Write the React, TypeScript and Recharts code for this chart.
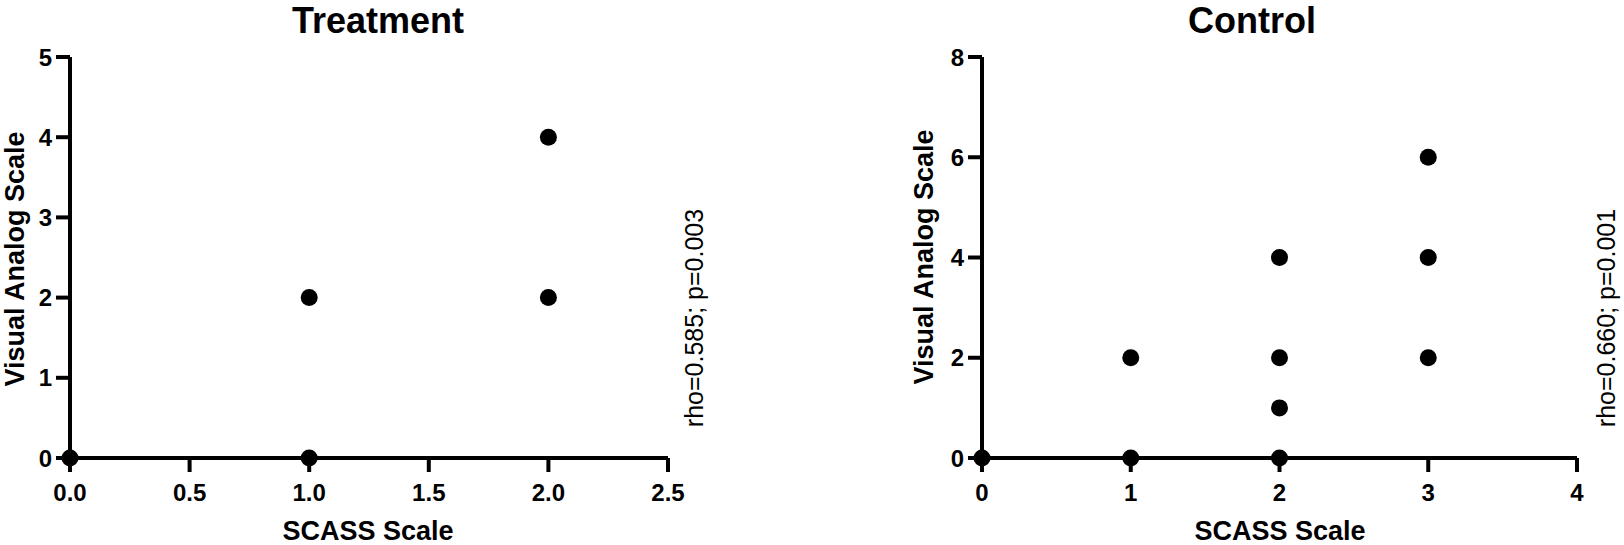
import { ScatterChart, Scatter, XAxis, YAxis } from 'recharts'

// SCASS score vs VAS, one array pair per group
const treatmentScass = [0, 1, 1, 2, 2]
const treatmentVas = [0, 0, 2, 2, 4]
const controlScass = [0, 1, 1, 2, 2, 2, 2, 3, 3, 3]
const controlVas = [0, 0, 2, 0, 1, 2, 4, 2, 4, 6]

const treatmentXTicks = [0, 0.5, 1, 1.5, 2, 2.5]
const treatmentYTicks = [0, 1, 2, 3, 4, 5]
const controlXTicks = [0, 1, 2, 3, 4]
const controlYTicks = [0, 2, 4, 6, 8]

const FONT = "'Liberation Sans', Arial, sans-serif"
const INK = '#000000'
const DOT_R = 8.5

const toPoints = (xs: number[], ys: number[]) => xs.map((x, i) => ({ x, y: ys[i] }))

const tickStyle = { fill: INK, fontSize: 24, fontWeight: 700, fontFamily: FONT }

const Dot = (props: any) => <circle cx={props.cx} cy={props.cy} r={DOT_R} fill={INK} />

interface PanelProps {
  points: { x: number; y: number }[]
  xTicks: number[]
  yTicks: number[]
  xFormat?: (v: number) => string
  yAxisWidth: number
  marginRight: number
}

function Panel({ points, xTicks, yTicks, xFormat, yAxisWidth, marginRight }: PanelProps) {
  return (
    <ScatterChart
      width={812}
      height={545}
      margin={{ top: 57, right: marginRight, bottom: 47, left: 0 }}
    >
      <XAxis
        type="number"
        dataKey="x"
        domain={[xTicks[0], xTicks[xTicks.length - 1]]}
        ticks={xTicks}
        interval={0}
        height={40}
        tickFormatter={xFormat}
        tick={tickStyle}
        tickSize={14}
        tickMargin={12}
        axisLine={{ stroke: INK, strokeWidth: 4 }}
        tickLine={{ stroke: INK, strokeWidth: 4 }}
      />
      <YAxis
        type="number"
        dataKey="y"
        domain={[yTicks[0], yTicks[yTicks.length - 1]]}
        ticks={yTicks}
        interval={0}
        width={yAxisWidth}
        tick={tickStyle}
        tickSize={14}
        tickMargin={4}
        axisLine={{ stroke: INK, strokeWidth: 4 }}
        tickLine={{ stroke: INK, strokeWidth: 4 }}
      />
      <Scatter data={points} fill={INK} shape={Dot} isAnimationActive={false} />
    </ScatterChart>
  )
}

export default function App() {
  return (
    <div style={{ position: 'absolute', left: 0, top: 0, width: 1624, height: 545, background: '#fff' }}>
      <div style={{ position: 'absolute', left: 0, top: 0 }}>
        <Panel
          points={toPoints(treatmentScass, treatmentVas)}
          xTicks={treatmentXTicks}
          yTicks={treatmentYTicks}
          xFormat={v => v.toFixed(1)}
          yAxisWidth={70}
          marginRight={144}
        />
      </div>
      <div style={{ position: 'absolute', left: 812, top: 0 }}>
        <Panel
          points={toPoints(controlScass, controlVas)}
          xTicks={controlXTicks}
          yTicks={controlYTicks}
          yAxisWidth={170}
          marginRight={47}
        />
      </div>

      {/* titles, axis titles and the correlation notes */}
      <svg
        width={1624}
        height={545}
        style={{ position: 'absolute', left: 0, top: 0, pointerEvents: 'none' }}
        fontFamily={FONT}
        fill={INK}
      >
        <text x={378} y={33} textAnchor="middle" fontSize={36} fontWeight={700}>Treatment</text>
        <text x={1252} y={33} textAnchor="middle" fontSize={36} fontWeight={700}>Control</text>

        <text x={368} y={540} textAnchor="middle" fontSize={27} fontWeight={700}>SCASS Scale</text>
        <text x={1280} y={540} textAnchor="middle" fontSize={27} fontWeight={700}>SCASS Scale</text>

        <text transform="translate(24,259) rotate(-90)" textAnchor="middle" fontSize={27} fontWeight={700}>
          Visual Analog Scale
        </text>
        <text transform="translate(933,257) rotate(-90)" textAnchor="middle" fontSize={27} fontWeight={700}>
          Visual Analog Scale
        </text>

        <text transform="translate(703,318) rotate(-90)" textAnchor="middle" fontSize={25}>
          rho=0.585; p=0.003
        </text>
        <text transform="translate(1615,318) rotate(-90)" textAnchor="middle" fontSize={25}>
          rho=0.660; p=0.001
        </text>
      </svg>
    </div>
  )
}
